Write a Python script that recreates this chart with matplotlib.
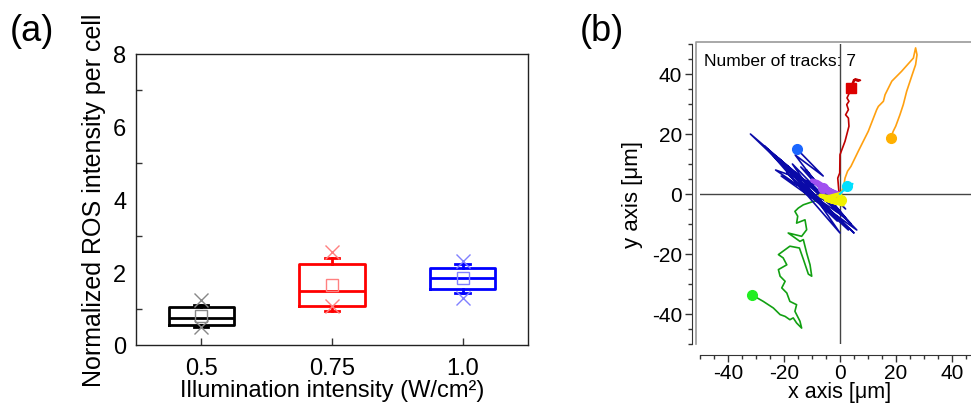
import numpy as np
import matplotlib
matplotlib.use('Agg')
import matplotlib.pyplot as plt
from matplotlib.lines import Line2D

plt.rcParams['font.family'] = ['Liberation Sans', 'DejaVu Sans']
plt.rcParams['axes.unicode_minus'] = False

# ---- panel (a): ROS box plots ----
intensity_labels = ['0.5', '0.75', '1.0']
box_colors = ['#000000', '#ff0000', '#0000ff']
light_colors = ['#888888', '#ff8080', '#8080ff']
q1 = [0.56, 1.08, 1.53]
med = [0.74, 1.49, 1.84]
q3 = [1.03, 2.23, 2.12]
whis_lo = [0.48, 0.94, 1.43]
whis_hi = [1.11, 2.39, 2.22]
means = [0.80, 1.65, 1.83]
min_vals = [0.48, 1.08, 1.28]
max_vals = [1.24, 2.56, 2.31]

# ---- panel (b): cell tracks (x, y in um) ----
red_x = [0, -0.4, -0.8, -0.1, 0.0, 1.8, 3.2, 3.0, 2.0, 3.0, 2.4, 3.2, 2.5, 3.6, 4.2, 4.9, 6.5, 7.3, 5.4, 4.6, 3.9]
red_y = [0, 0.9, 5.3, 7.0, 13.1, 17.6, 22.6, 25.3, 26.4, 28.1, 29.8, 30.9, 32.0, 34.2, 36.4, 38.1, 37.6, 37.9, 38.4, 36.5, 35.3]

orange_x = [0, 1.2, 1.8, 2.7, 3.9, 6.5, 10.1, 13.1, 13.7, 15.5, 16.1, 18.5, 22.0, 26.2, 27.0, 27.5, 27.0, 25.8,
            23.8, 22.6, 21.4, 19.9, 19.0, 18.1]
orange_y = [0, 2.0, 5.3, 7.6, 9.2, 14.2, 20.9, 28.1, 29.2, 30.9, 33.1, 37.6, 40.9, 45.3, 48.7, 46.4, 43.1, 39.8,
            34.2, 29.8, 26.4, 22.6, 20.9, 18.7]

blue_x = [0, -6, 2, -14, 4, -22, -3, -27, 3, -19, -1, -24, 5, -32, -2, -21, 6, -17, 0, -26, -4, -12, 2, -23,
          -8, -16, -6, -15.5]
blue_y = [0, 3, -5, 9, -10, 12, -6, 16, -12, 7, -9, 13, -13, 20, -4, 6, -12, 10, -13, 15, -2, 8, -8, 8,
          3, 13, 6, 15.1]

green_x = [0, -8, -13.1, -14.9, -16.1, -15.1, -15.5, -12.5, -11.9, -13.7, -18.5, -14.3, -13.1, -11.9, -10.7, -10.1,
           -11.3, -13.0, -14.5, -17.9, -22.0, -20.3, -19.0, -22.0, -21.4, -19.6, -20.8, -19.0, -17.9, -15.5, -16.1,
           -14.3, -13.7, -15.5, -16.7, -17.9, -19.6, -21.4, -23.8, -27.4, -31.5]
green_y = [0, -2, -3.6, -4.7, -5.8, -7.4, -9.7, -8.6, -11.9, -14.1, -13.0, -15.8, -15.2, -19.7, -23.6, -27.4,
           -26.7, -22.0, -18.0, -17.4, -20.2, -21.3, -23.6, -25.2, -27.4, -29.1, -31.3, -33.0, -35.8, -36.9, -39.1,
           -42.4, -44.7, -43.0, -41.3, -41.9, -40.8, -40.2, -38.0, -35.8, -33.6]

purple_x = [0, -3, -8, -10, -7, -2, 1.5, -4, -6]
purple_y = [0, 1, 4, 4.5, 2.5, -1, -2, 1, 2]

yellow_x = [0, -4, -7, -3, 1, -2, -5, -1, 0.5]
yellow_y = [0, -1, -0.5, -2.5, -3.5, -1.5, -2, -3, -2]

cyan_x = [0, 1, 3, 4.5, 3.5, 2.4]
cyan_y = [0, 1, 2, 3.4, 3.0, 2.6]

tracks = [
    (green_x, green_y, '#12a012', '#22ee22', 'o', 1.2),
    (blue_x, blue_y, '#0a0aa8', '#1a66ff', 'o', 1.2),
    (red_x, red_y, '#c00000', '#dd0000', 's', 1.2),
    (orange_x, orange_y, '#ffa010', '#ffb000', 'o', 1.2),
    (purple_x, purple_y, '#a050f0', '#a050f0', 'o', 3),
    (yellow_x, yellow_y, '#f0f000', '#f0f000', 'o', 3),
    (cyan_x, cyan_y, '#00e0ff', '#00e0ff', 'o', 1.5),
]

fig = plt.figure(figsize=(9.71, 4.06), dpi=100)

# ---------- (a) ----------
ax1 = fig.add_axes([0.140, 0.148, 0.4037, 0.7167])
pos = np.arange(1, len(intensity_labels) + 1)
for i in range(len(pos)):
    stats = [dict(med=med[i], q1=q1[i], q3=q3[i], whislo=whis_lo[i], whishi=whis_hi[i],
                  mean=means[i], fliers=[])]
    c = box_colors[i]
    ax1.bxp(stats, positions=[pos[i]], widths=0.5, showmeans=True, showfliers=False,
            capwidths=0.11,
            boxprops=dict(color=c, lw=2),
            medianprops=dict(color=c, lw=2),
            whiskerprops=dict(color=c, lw=2),
            capprops=dict(color=c, lw=2),
            meanprops=dict(marker='s', markerfacecolor='none', markeredgecolor=light_colors[i],
                           markersize=8, markeredgewidth=1))
    ax1.plot([pos[i], pos[i]], [min_vals[i], max_vals[i]], ls='none', marker='x',
             color=light_colors[i], markersize=10, mew=1)

ax1.set_xlim(0.5, 3.5)
ax1.set_ylim(0, 8)
ax1.set_xticks(pos)
ax1.set_xticklabels(intensity_labels)
ax1.set_yticks([0, 2, 4, 6, 8])
ax1.set_yticks([1, 3, 5, 7], minor=True)
ax1.tick_params(axis='y', which='major', length=0, pad=7, labelsize=17)
ax1.tick_params(axis='y', which='minor', direction='in', length=4, width=1, color='#333333')
ax1.tick_params(axis='x', direction='in', length=5, width=1, color='#333333', pad=9, labelsize=17)
for s in ax1.spines.values():
    s.set_color('#222222')
    s.set_linewidth(1)
ax1.set_ylabel('Normalized ROS intensity per cell', fontsize=18, labelpad=5)
ax1.set_xlabel('Illumination intensity (W/cm²)', fontsize=17, labelpad=0)
fig.text(0.010, 0.965, '(a)', fontsize=26, va='top', ha='left')

# ---------- (b) ----------
ax2 = fig.add_axes([700 / 971, 61 / 406, 280 / 971, 300 / 406])
for tx, ty, lc, mc, mk, lw in tracks:
    ax2.plot(tx, ty, color=lc, lw=lw, zorder=3)
    ax2.plot(tx[-1], ty[-1], marker=mk, color=mc, markersize=7, zorder=4)

ax2.axhline(0, color='#444444', lw=1, zorder=2)
ax2.axvline(0, color='#444444', lw=1, zorder=2)
ax2.set_xlim(-50, 50)
ax2.set_ylim(-50, 50)
ax2.set_xticks([-40, -20, 0, 20, 40])
ax2.set_yticks([-40, -20, 0, 20, 40])
ax2.set_xticks(np.arange(-50, 51, 5), minor=True)
ax2.set_yticks(np.arange(-50, 51, 5), minor=True)
ax2.tick_params(which='major', direction='out', length=5, width=1, color='#333333', labelsize=15, pad=2)
ax2.tick_params(axis='x', which='major', pad=1)
ax2.tick_params(which='minor', direction='out', length=3, width=1, color='#333333')
ax2.spines['top'].set_visible(False)
ax2.spines['right'].set_visible(False)
ax2.spines['left'].set_position(('outward', 6))
ax2.spines['bottom'].set_position(('outward', 8))
ax2.spines['left'].set_color('#333333')
ax2.spines['bottom'].set_color('#333333')
# light gray frame on the top and left of the plotting area
ax2.add_line(Line2D([-0.015, -0.015, 1.2], [0.0, 1.007, 1.007], transform=ax2.transAxes,
                    color='#999999', lw=1.2, clip_on=False, zorder=1))
ax2.text(0.015, 0.97, 'Number of tracks: 7', transform=ax2.transAxes, fontsize=12.5,
         va='top', ha='left', zorder=5)
ax2.set_xlabel('x axis [μm]', fontsize=15.5, labelpad=-1)
ax2.set_ylabel('y axis [μm]', fontsize=16, labelpad=6)
fig.text(0.597, 0.965, '(b)', fontsize=26, va='top', ha='left')

fig.savefig('out.png', dpi=100)
